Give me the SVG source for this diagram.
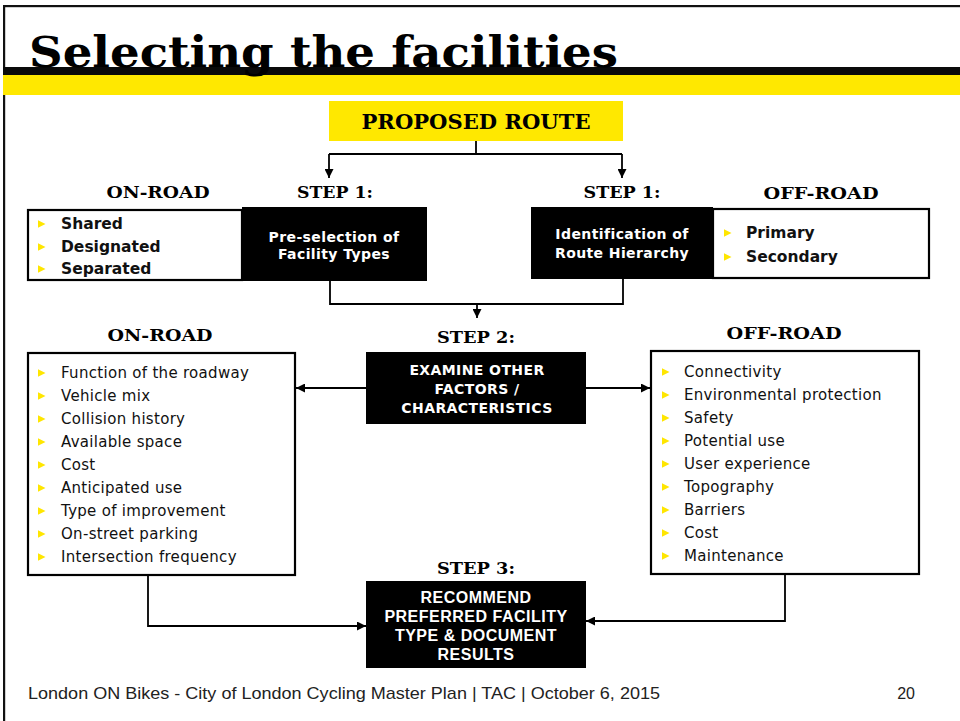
<svg xmlns="http://www.w3.org/2000/svg" width="960" height="721" viewBox="0 0 960 721">
<style>
.hd{font-family:"DejaVu Serif","Liberation Serif",serif;font-weight:bold;fill:#000;text-anchor:middle}
.li{font-family:"DejaVu Sans","Liberation Sans",sans-serif;font-size:15px;fill:#111;letter-spacing:0.3px}
.lb{font-family:"DejaVu Sans","Liberation Sans",sans-serif;font-size:15.5px;font-weight:bold;fill:#111}
.wt{font-family:"DejaVu Sans","Liberation Sans",sans-serif;font-weight:bold;font-size:14px;fill:#fff;text-anchor:middle;letter-spacing:0.4px}
.w3{font-family:"Liberation Sans","Arial",sans-serif;font-weight:bold;font-size:16px;fill:#fff;text-anchor:middle;letter-spacing:0.5px}
.box{fill:#fff;stroke:#000;stroke-width:2.2}
.blk{fill:#000}
.con{fill:none;stroke:#000;stroke-width:1.8}
</style>
<defs>
<path id="bul" d="M0,-3.8 L7.5,0 L0,3.8Z" fill="#FFE600"/>
<marker id="ah" viewBox="0 0 10 10" refX="10" refY="5" markerWidth="5" markerHeight="5" orient="auto" markerUnits="strokeWidth">
<path d="M0,0 L10,5 L0,10Z" fill="#000"/>
</marker>
</defs>
<rect width="960" height="721" fill="#fff"/>
<g id="frame">
<rect x="3" y="5" width="957" height="2.2" fill="#111"/>
<rect x="3" y="5" width="2.2" height="716" fill="#111"/>
</g>
<g id="band">
<rect x="3" y="67" width="957" height="8" fill="#0a0a0a"/>
<rect x="3" y="75" width="957" height="20" fill="#FFE800"/>
</g>
<g id="title">
<text x="29" y="67" font-family="DejaVu Serif, Liberation Serif, serif" font-weight="bold" font-size="42" textLength="589" lengthAdjust="spacingAndGlyphs" fill="#000">Selecting the facilities</text>
</g>
<g id="proposed-route">
<rect x="329" y="101" width="294" height="40" fill="#FFE800"/>
<text class="hd" x="476" y="129" font-size="20" textLength="229" lengthAdjust="spacingAndGlyphs">PROPOSED ROUTE</text>
</g>
<g id="labels">
<text class="hd" x="158" y="198" font-size="17" textLength="103" lengthAdjust="spacingAndGlyphs">ON-ROAD</text>
<text class="hd" x="335" y="198" font-size="17" textLength="76" lengthAdjust="spacingAndGlyphs">STEP 1:</text>
<text class="hd" x="622" y="198" font-size="17" textLength="77" lengthAdjust="spacingAndGlyphs">STEP 1:</text>
<text class="hd" x="821" y="199" font-size="17" textLength="115" lengthAdjust="spacingAndGlyphs">OFF-ROAD</text>
<text class="hd" x="160" y="341" font-size="17" textLength="105" lengthAdjust="spacingAndGlyphs">ON-ROAD</text>
<text class="hd" x="476" y="343" font-size="17" textLength="78" lengthAdjust="spacingAndGlyphs">STEP 2:</text>
<text class="hd" x="784" y="339" font-size="17" textLength="115" lengthAdjust="spacingAndGlyphs">OFF-ROAD</text>
<text class="hd" x="476" y="574" font-size="17" textLength="78" lengthAdjust="spacingAndGlyphs">STEP 3:</text>
</g>
<g id="onroad-types">
<rect class="box" x="28" y="210" width="214" height="70"/>
<use href="#bul" x="38" y="224"/><text class="lb" x="61" y="229">Shared</text>
<use href="#bul" x="38" y="247"/><text class="lb" x="61" y="252">Designated</text>
<use href="#bul" x="38" y="269"/><text class="lb" x="61" y="274">Separated</text>
</g>
<g id="step1-preselection">
<rect class="blk" x="242" y="207" width="185" height="74"/>
<text class="wt" x="334" y="242">Pre-selection of</text>
<text class="wt" x="334" y="259">Facility Types</text>
</g>
<g id="step1-hierarchy">
<rect class="blk" x="531" y="207" width="182" height="72"/>
<text class="wt" x="622" y="239">Identification of</text>
<text class="wt" x="622" y="258">Route Hierarchy</text>
</g>
<g id="offroad-types">
<rect class="box" x="713" y="209" width="216" height="69"/>
<use href="#bul" x="724" y="233"/><text class="lb" x="746" y="238">Primary</text>
<use href="#bul" x="724" y="257"/><text class="lb" x="746" y="262">Secondary</text>
</g>
<g id="step2">
<rect class="blk" x="366" y="352" width="220" height="72"/>
<text class="wt" x="477" y="375" letter-spacing="1.2">EXAMINE OTHER</text>
<text class="wt" x="477" y="394" letter-spacing="1.2">FACTORS /</text>
<text class="wt" x="477" y="413" letter-spacing="1.2">CHARACTERISTICS</text>
</g>
<g id="onroad-factors">
<rect class="box" x="28" y="353" width="267" height="222"/>
<use href="#bul" x="38" y="373"/><text class="li" x="61" y="378">Function of the roadway</text>
<use href="#bul" x="38" y="396"/><text class="li" x="61" y="401">Vehicle mix</text>
<use href="#bul" x="38" y="419"/><text class="li" x="61" y="424">Collision history</text>
<use href="#bul" x="38" y="442"/><text class="li" x="61" y="447">Available space</text>
<use href="#bul" x="38" y="465"/><text class="li" x="61" y="470">Cost</text>
<use href="#bul" x="38" y="488"/><text class="li" x="61" y="493">Anticipated use</text>
<use href="#bul" x="38" y="511"/><text class="li" x="61" y="516">Type of improvement</text>
<use href="#bul" x="38" y="534"/><text class="li" x="61" y="539">On-street parking</text>
<use href="#bul" x="38" y="557"/><text class="li" x="61" y="562">Intersection frequency</text>
</g>
<g id="offroad-factors">
<rect class="box" x="651" y="351" width="268" height="223"/>
<use href="#bul" x="662" y="372"/><text class="li" x="684" y="377">Connectivity</text>
<use href="#bul" x="662" y="395"/><text class="li" x="684" y="400">Environmental protection</text>
<use href="#bul" x="662" y="418"/><text class="li" x="684" y="423">Safety</text>
<use href="#bul" x="662" y="441"/><text class="li" x="684" y="446">Potential use</text>
<use href="#bul" x="662" y="464"/><text class="li" x="684" y="469">User experience</text>
<use href="#bul" x="662" y="487"/><text class="li" x="684" y="492">Topography</text>
<use href="#bul" x="662" y="510"/><text class="li" x="684" y="515">Barriers</text>
<use href="#bul" x="662" y="533"/><text class="li" x="684" y="538">Cost</text>
<use href="#bul" x="662" y="556"/><text class="li" x="684" y="561">Maintenance</text>
</g>
<g id="step3">
<rect class="blk" x="366" y="581" width="220" height="87"/>
<text class="w3" x="476" y="603">RECOMMEND</text>
<text class="w3" x="476" y="622">PREFERRED FACILITY</text>
<text class="w3" x="476" y="641">TYPE &amp; DOCUMENT</text>
<text class="w3" x="476" y="660">RESULTS</text>
</g>
<g id="connectors">
<path class="con" d="M476,141 V154 M329,154 H622"/>
<path class="con" d="M329,154 V178" marker-end="url(#ah)"/>
<path class="con" d="M622,154 V178" marker-end="url(#ah)"/>
<path class="con" d="M330,281 V304 H623 V279"/>
<path class="con" d="M477,304 V318" marker-end="url(#ah)"/>
<path class="con" d="M366,388 H296" marker-end="url(#ah)"/>
<path class="con" d="M586,388 H650" marker-end="url(#ah)"/>
<path class="con" d="M148,575 V626 H366" marker-end="url(#ah)"/>
<path class="con" d="M785,574 V621 H586" marker-end="url(#ah)"/>
</g>
<g id="footer">
<text x="28" y="699" font-family="Liberation Sans, Arial, sans-serif" font-size="17" textLength="632" lengthAdjust="spacingAndGlyphs" fill="#222">London ON Bikes - City of London Cycling Master Plan | TAC | October 6, 2015</text>
<text x="915" y="699" font-family="Liberation Sans, Arial, sans-serif" font-size="16" text-anchor="end" fill="#222">20</text>
</g>
</svg>
